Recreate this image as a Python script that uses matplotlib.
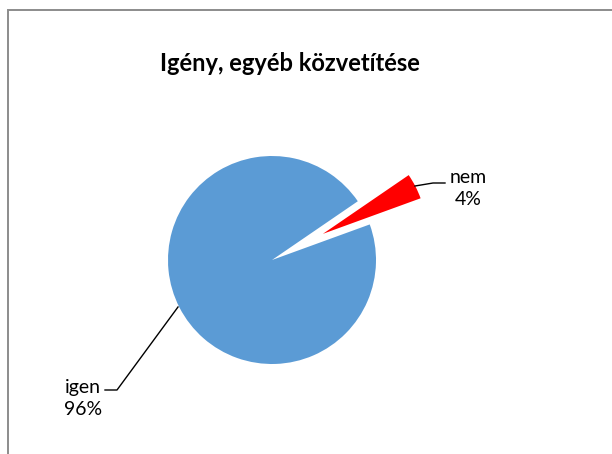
import matplotlib
matplotlib.use("Agg")
import matplotlib.pyplot as plt
import numpy as np
from matplotlib.patches import Rectangle

labels = ["igen", "nem"]
values = [96, 4]
colors = ["#5B9BD5", "#FF0000"]
explode = [0, 0.55]
title = "Igény, egyéb közvetítése"

W, H, DPI = 612, 454, 100
fig = plt.figure(figsize=(W / DPI, H / DPI), dpi=DPI)
fig.patch.set_facecolor("white")

# border (cut off on right and bottom like the reference)
fig.patches.append(Rectangle((7.5 / W, -0.2), 1.2, (H - 9.5) / H + 0.2,
                             transform=fig.transFigure, fill=False,
                             edgecolor="#8C8C8C", linewidth=1.4))

# axes: whole figure, data units = pie radius (104 px), centre at (272, 260 from top)
cx, cy, R = 272, 454 - 260, 104
ax = fig.add_axes([0, 0, 1, 1])
ax.pie(values, colors=colors, explode=explode, startangle=20,
       counterclock=False, radius=1.0, wedgeprops=dict(linewidth=0))
ax.set_xlim(-cx / R, (W - cx) / R)
ax.set_ylim(-cy / R, (H - cy) / R)
ax.set_aspect("equal")
ax.axis("off")

font = "Lato"
ax.text(290 / R - cx / R, (H - 64 - cy) / R, title, ha="center", va="center",
        fontsize=17, fontweight="bold", family=font)

# data labels
total = sum(values)
pct = [f"{round(v / total * 100)}%" for v in values]
ax.text(1.885, 0.69, f"{labels[1]}\n{pct[1]}", ha="center", va="center",
        fontsize=14, family=font, linespacing=1.35)
ax.text(-1.82, -1.33, f"{labels[0]}\n{pct[0]}", ha="center", va="center",
        fontsize=14, family=font, linespacing=1.35)

# leader lines (pixel -> data)
def p(x, y):
    return ((x - cx) / R, (H - y - cy) / R)

l1 = [p(178, 307), p(117, 390), p(105, 390)]
l2 = [p(415, 186), p(433, 183), p(445, 183)]
for ln in (l1, l2):
    xs, ys = zip(*ln)
    ax.plot(xs, ys, color="black", linewidth=1.0)

fig.savefig("out.png", dpi=DPI)
